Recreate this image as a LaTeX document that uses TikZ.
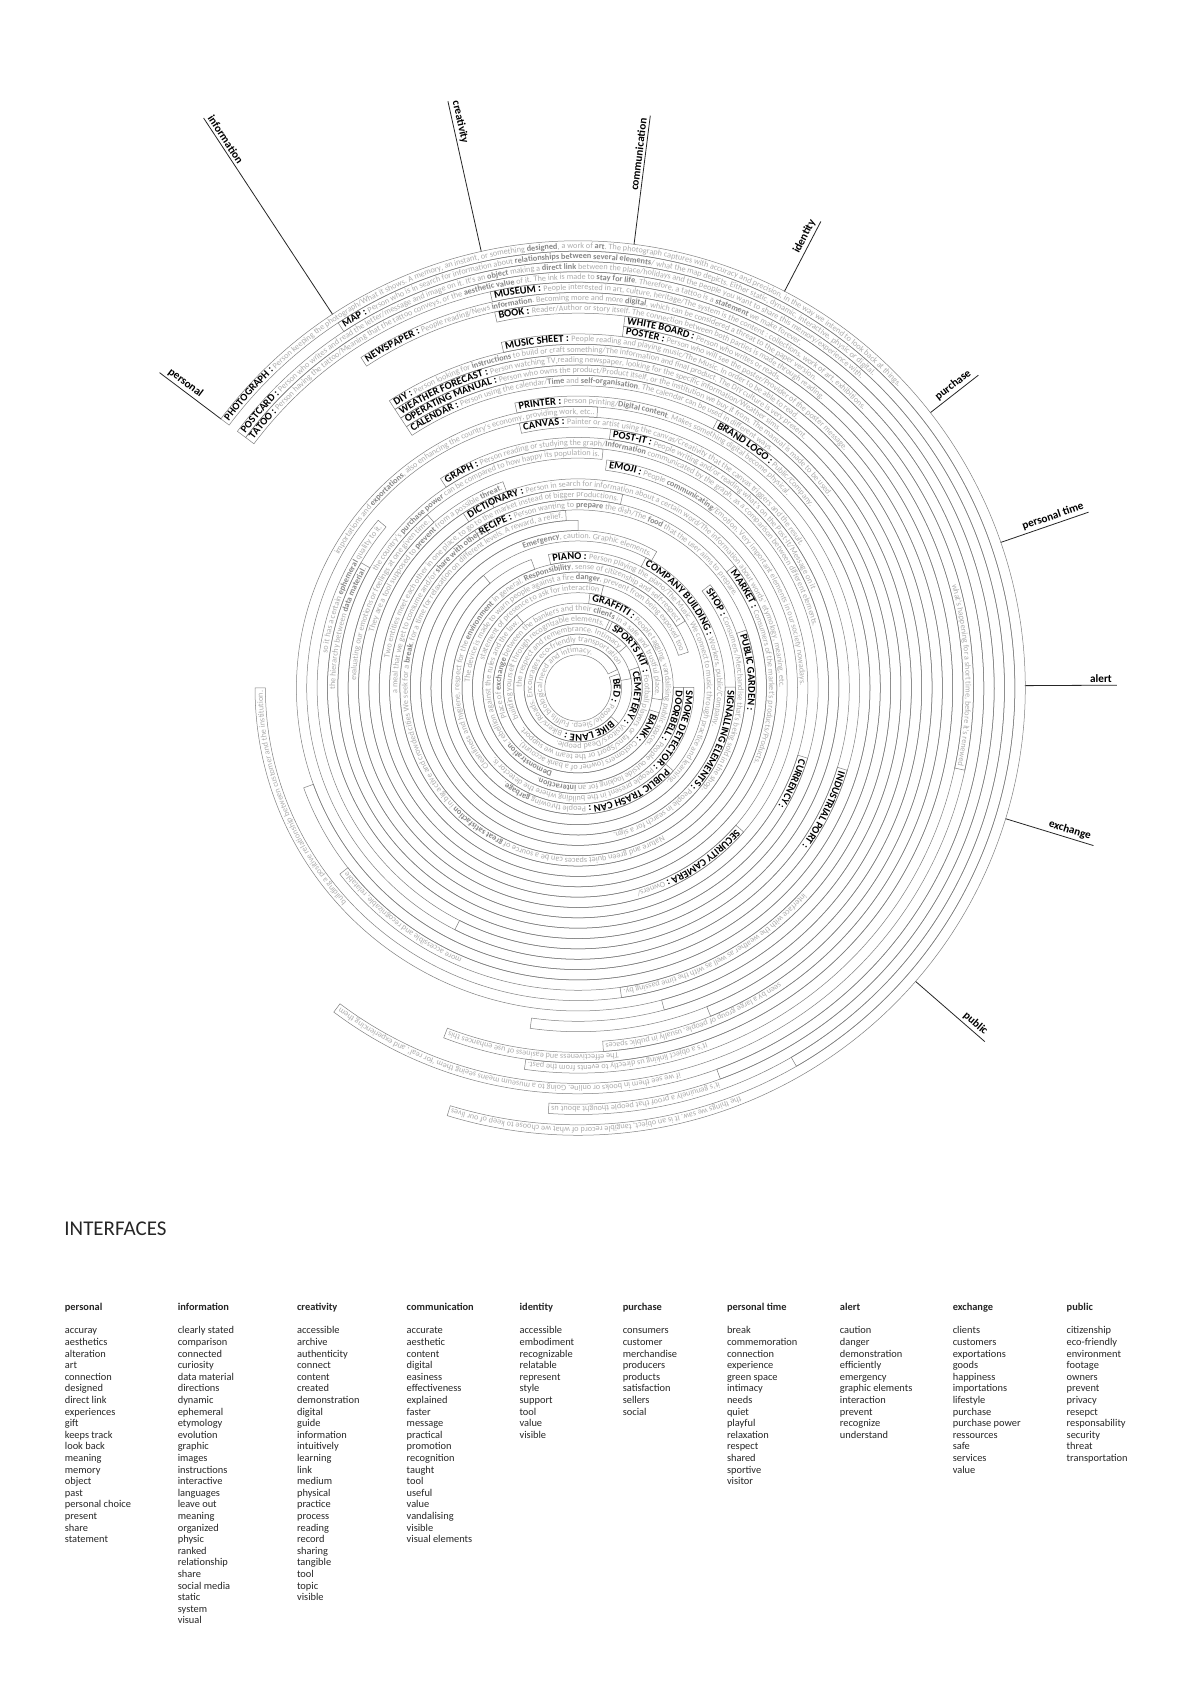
\documentclass[tikz,border=0pt]{standalone}
\usepackage{fontspec}
\setmainfont{Carlito}
\usetikzlibrary{decorations.text}
\newcommand\lblfont{\fontsize{5.2}{6}\selectfont\bfseries\color{black}}
\newcommand\gtxfont{\fontsize{4.1}{5}\selectfont\mdseries\color{black!32}}
\newcommand\gbdfont{\fontsize{4.1}{5}\selectfont\bfseries\color{black!48}}
\def\bandtop{442}
\def\bandstep{10.35}
\tikzset{
  bandline/.style={draw=black!50, line width=0.25pt},
  catline/.style={draw=black!85, line width=0.4pt},
  catlabel/.style={font=\fontsize{5.6}{6}\selectfont\bfseries, text=black, inner sep=1.2pt},
  listcol/.style={anchor=north west, inner sep=0pt, align=left, text=black!85, font=\fontsize{5.2}{5.8}\selectfont}
}
% #1 slot, #2 start angle, #3 end angle, #4 label, #5 start text, #6 end text
\newcommand\mkband[6]{%
  \pgfmathsetmacro\bc{\bandtop-(#1-1)*\bandstep}%
  \pgfmathsetmacro\bi{\bc-0.5*\bandstep}%
  \pgfmathsetmacro\bo{\bc+0.5*\bandstep}%
  \pgfmathsetmacro\bt{\bi+2.6}%
  \draw[bandline] (C) ++(#2:\bi) arc[start angle=#2,end angle=#3,radius=\bi] -- ++(#3:\bandstep) arc[start angle=#3,end angle=#2,radius=\bo] -- cycle;
  \path[decorate,decoration={text along path,text align={left,left indent=1.5pt},text={|\lblfont|#4 : |\gtxfont|#5}}] (C) ++(#2:\bt) arc[start angle=#2,end angle=#3,radius=\bt];
  \def\tmpend{#6}%
  \ifx\tmpend\empty\else
  \path[decorate,decoration={text along path,text align={right,right indent=1.5pt},text={|\gtxfont|#6}}] (C) ++(#2:\bt) arc[start angle=#2,end angle=#3,radius=\bt];
  \fi
}
% #1 angle, #2 outer radius, #3 text radius, #4 label, #5 name
\newcommand\mkcat[5]{%
  \pgfmathparse{(#1>90) ? (#1+180) : (#1)}\let\catrot\pgfmathresult
  \path (C) ++(#1:447) coordinate (#5in);
  \path (C) ++(#1:#2) coordinate (#5out);
  \draw[catline] (#5in) -- (#5out);
  \path (C) ++(#1:#3) node[catlabel, rotate=\catrot, anchor=south] (#5lab) {#4};
}
\begin{document}
\begin{tikzpicture}[x=0.5pt,y=0.5pt]
\fill[white] (0,0) rectangle (1192,1685);
\useasboundingbox (0,0) rectangle (1192,1685);
\coordinate (C) at (578,997);

% category lines
\mkcat{143}{524}{497}{personal}{personal}
\mkcat{123.3}{682}{652}{information}{info}
\mkcat{102.5}{601}{578}{creativity}{crea}
\mkcat{82.8}{577}{537}{communication}{comm}
\mkcat{62.5}{526}{505}{identity}{iden}
\mkcat{38}{508}{482}{purchase}{purch}
\mkcat{19}{540}{505}{personal time}{ptime}
\mkcat{0.3}{539}{523}{alert}{alert}
\mkcat{-17}{539}{512}{exchange}{exch}
\mkcat{-41}{539}{520}{public}{public}

% bands
\mkband{1}{143}{-107}{PHOTOGRAPH}{Person keeping the photograph/What it shows. A memory, an instant, or something |\gbdfont|designed|\gtxfont|, a work of |\gbdfont|art|\gtxfont|. The photograph captures with accuracy and precision, in the way we intend to look back at things.}{the things we saw. It is an object, tangible record of what we choose to keep of our lives}
\mkband{2}{123.3}{-60}{MAP}{Person who is in search for information about |\gbdfont|relationships between several elements|\gtxfont|/ what the map depicts. Either static, dynamic, interactive, physic or digital.}{}
\mkband{3}{143}{-94}{POSTCARD}{Person who writes and read the letter/message and image on it. It's an |\gbdfont|object|\gtxfont| making a |\gbdfont|direct link|\gtxfont| between the place/holidays and the people you want to share this memory/experience with.}{it's genuinely a proof that people thought about us}
\mkband{4}{143}{-70}{TATOO}{Person having the tattoo/Meaning that the tattoo conveys, or the |\gbdfont|aesthetic value|\gtxfont| of it. The ink is made to |\gbdfont|stay for life|\gtxfont|. Therefore, a tattoo is a |\gbdfont|statement|\gtxfont| we make forever.}{}
\mkband{5}{102.5}{-127}{MUSEUM}{People interested in art, culture, heritage/The system is the content : collections, work of art, exhibitions.}{if we see them in books or online. Going to a museum means seeing them 'for real', and experiencing them}
\mkband{6}{123.3}{-12}{NEWSPAPER}{People reading/News |\gbdfont|information|\gtxfont|. Becoming more and more |\gbdfont|digital|\gtxfont|, which can be considered a threat to the paper version.}{what's happening for a short time, before it's renewed}
\mkband{7}{102.5}{-98}{BOOK}{Reader/Author or story itself. The connection between both parties is made through reading.}{It's a object linking us directly to events from the past.}
\mkband{8}{82.8}{-111}{WHITE BOARD}{Person who writes or reads.}{The effectiveness and easiness of use enhances this}
\mkband{9}{82.8}{-86}{POSTER}{Person who will see the poster/Provider of the poster message.}{seen by a large group of people, usually in public spaces}
\mkband{10}{102.5}{-68}{MUSIC SHEET}{People reading and playing music/The Music. In order to be able to read.}{}
\mkband{11}{123.3}{-98}{DIY}{Person looking for |\gbdfont|instructions|\gtxfont| to build or craft something/The information and final product. The DIY culture is very present.}{}
\mkband{12}{123.3}{-75}{WEATHER FORECAST}{Person watching TV,reading newspaper, looking for the specific information/Weather sims.}{}
\mkband{13}{123.3}{-180}{OPERATING MANUAL}{Person who owns the product/Product itself, or the institution we buy it from. The manual is made to be used.}{building a positive relationship between customer and the institution.}
\mkband{14}{123.3}{-82}{CALENDAR}{Person using the calendar/|\gbdfont|Time|\gtxfont| and |\gbdfont|self-organisation|\gtxfont|. The calendar can be used in different ways.}{interface with the weather as well as with the time passing by.}
\mkband{15}{62.5}{-142}{BRAND LOGO}{Public/Company.}{more accessible and recognizable, relatable}
\mkband{16}{102.5}{-160}{PRINTER}{Person printing/|\gbdfont|Digital content|\gtxfont|. Makes something digital become physical.}{}
\mkband{17}{-17}{-274}{INDUSTRIAL PORT}{}{importations and |\gbdfont|exportations|\gtxfont|, also enhancing the country's economy, providing work, etc..}
\mkband{18}{102.5}{-117}{CANVAS}{Painter or artist using the canvas/Creativity that the canvas triggers and the result.}{}
\mkband{19}{82.8}{-220}{POST-IT}{People writing and/or reading what's on the Post-It/Message on it.}{so it has a certain |\gbdfont|ephemeral|\gtxfont| quality to it.}
\mkband{20}{123.3}{-210}{GRAPH}{Person reading or studying the graph/|\gbdfont|Information|\gtxfont| communicated by the graph, as a comparison between different elements.}{the hierarchy between |\gbdfont|data material|\gtxfont|.}
\mkband{21}{-17}{-276}{CURRENCY}{}{the country's |\gbdfont|purchase power|\gtxfont| can be compared to how happy its population is.}
\mkband{22}{82.8}{-229}{EMOJI}{People |\gbdfont|communicating|\gtxfont|/Emotion. Very important elements in our society nowadays.}{evaluating our emotions or feelings at one given time.}
\mkband{23}{-41}{-250}{SECURITY CAMERA}{Owners/}{They are a tool supposed to |\gbdfont|prevent|\gtxfont| from a possible |\gbdfont|threat|\gtxfont|.}
\mkband{24}{123.3}{-245}{DICTIONARY}{Person in search for information about a certain word/The information about words' etymology, meaning, etc.}{}
\mkband{25}{38}{-283}{MARKET}{Consumers of the market's products/Products.}{Two entities meet each other in one place, to go to the market instead of bigger productions.}
\mkband{26}{123.3}{-240}{RECIPE}{Person wanting to |\gbdfont|prepare|\gtxfont| the dish/The |\gbdfont|food|\gtxfont| that the user aims to prepare.}{a meal that we get to consume and/or |\gbdfont|share with others|\gtxfont|.}
\mkband{27}{19}{-266}{PUBLIC GARDEN}{}{Nature and green quiet spaces can be a source of |\gbdfont|great satisfaction|\gtxfont| in big active and crowded cities We seek for a |\gbdfont|break|\gtxfont|, for a time for relaxation on different levels. A reward, a relief.}
\mkband{28}{38}{-270}{SHOP}{Consumers/Merchandise that's being sold in the shop.}{}
\mkband{29}{0.3}{-300}{SIGNALLING ELEMENTS}{People in search for a sign.}{|\gbdfont|Emergency|\gtxfont|, caution. Graphic elements.}
\mkband{30}{62.5}{-230}{COMPANY BUILDING}{Workers, public/Company.}{}
\mkband{31}{102.5}{-250}{PIANO}{Person playing the piano/The Music. We connect to music through practice and learning.}{}
\mkband{32}{-41}{-328}{PUBLIC TRASH CAN}{People throwing |\gbdfont|garbage|\gtxfont|.}{Cleanliness and hygiene, respect for the |\gbdfont|environment|\gtxfont| in general. |\gbdfont|Responsibility|\gtxfont|, sense of citizenship and self-respect}
\mkband{33}{0.3}{-342}{SMOKE DETECTOR}{People present in the building where the detector is.}{The device is made to warn people against a fire |\gbdfont|danger|\gtxfont|, prevent from being exposed too}
\mkband{34}{0.3}{-284}{DOORBELL}{People outside looking for an |\gbdfont|interaction|\gtxfont|.}{statement of presence to ask for interaction}
\mkband{35}{82.8}{-230}{GRAFFITI}{People tagging, vandalising public spaces.}{|\gbdfont|Demonstration|\gtxfont|, rebellion against the rules and the law.}
\mkband{36}{-17}{-368}{BANK}{Customers (owner of a bank account).}{Place of |\gbdfont|exchange|\gtxfont| between the bankers and their |\gbdfont|clients|\gtxfont| in a safe and trustful place.}
\mkband{37}{62.5}{-295}{SPORTS KIT}{Football players or fans/Sport or the team we support.}{building yourself through recognizable elements.}
\mkband{38}{19}{-319}{CEMETERY}{Visitors/Dead people.}{the respect and remembrance. Intimacy}
\mkband{39}{-41}{-350}{BIKE LANE}{Bikers/Roads. Encourages eco-friendly transportation}{}
\mkband{40}{19}{-335}{BED}{People/Sleep. Fulfils biological need and intimacy.}{}

% title and lists
\node[anchor=base west, inner sep=0pt, font=\fontsize{10.5}{12}\selectfont, text=black!85] (title) at (64,449) {INTERFACES};

\node[listcol] (lpersonal) at (64.5,382) {\textbf{personal}\\[5.8pt]accuray\\aesthetics\\alteration\\art\\connection\\designed\\direct link\\experiences\\gift\\keeps track\\look back\\meaning\\memory\\object\\past\\personal choice\\present\\share\\statement};
\node[listcol] (linfo) at (177.4,382) {\textbf{information}\\[5.8pt]clearly stated\\comparison\\connected\\curiosity\\data material\\directions\\dynamic\\ephemeral\\etymology\\evolution\\graphic\\images\\instructions\\interactive\\languages\\leave out\\meaning\\organized\\physic\\ranked\\relationship\\share\\social media\\static\\system\\visual};
\node[listcol] (lcrea) at (296.7,382) {\textbf{creativity}\\[5.8pt]accessible\\archive\\authenticity\\connect\\content\\created\\demonstration\\digital\\guide\\information\\intuitively\\learning\\link\\medium\\physical\\practice\\process\\reading\\record\\sharing\\tangible\\tool\\topic\\visible};
\node[listcol] (lcomm) at (406.3,382) {\textbf{communication}\\[5.8pt]accurate\\aesthetic\\content\\digital\\easiness\\effectiveness\\explained\\faster\\message\\practical\\promotion\\recognition\\taught\\tool\\useful\\value\\vandalising\\visible\\visual elements};
\node[listcol] (liden) at (519.2,382) {\textbf{identity}\\[5.8pt]accessible\\embodiment\\recognizable\\relatable\\represent\\style\\support\\tool\\value\\visible};
\node[listcol] (lpurch) at (622.4,382) {\textbf{purchase}\\[5.8pt]consumers\\customer\\merchandise\\producers\\products\\satisfaction\\sellers\\social};
\node[listcol] (lptime) at (726.6,382) {\textbf{personal time}\\[5.8pt]break\\commemoration\\connection\\experience\\green space\\intimacy\\needs\\quiet\\playful\\relaxation\\respect\\shared\\sportive\\visitor};
\node[listcol] (lalert) at (839.5,382) {\textbf{alert}\\[5.8pt]caution\\danger\\demonstration\\efficiently\\emergency\\graphic elements\\interaction\\prevent\\recognize\\understand};
\node[listcol] (lexch) at (952.4,382) {\textbf{exchange}\\[5.8pt]clients\\customers\\exportations\\goods\\happiness\\importations\\lifestyle\\purchase\\purchase power\\ressources\\safe\\services\\value};
\node[listcol] (lpublic) at (1066.3,382) {\textbf{public}\\[5.8pt]citizenship\\eco-friendly\\environment\\footage\\owners\\prevent\\privacy\\resepct\\responsability\\security\\threat\\transportation};
\end{tikzpicture}
\end{document}
